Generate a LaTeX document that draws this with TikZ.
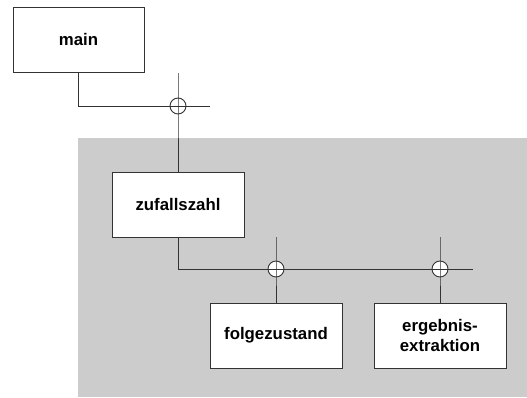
\documentclass[tikz,border=0pt]{standalone}
\usepackage{fontspec}
\setmainfont{Liberation Sans}
\usetikzlibrary{positioning}
\definecolor{panelGray}{RGB}{204,204,204}
\definecolor{lineGray}{RGB}{51,51,51}

\begin{document}
\begin{tikzpicture}[
        x=1pt, y=-1pt,
        module/.style={rectangle, draw=lineGray, fill=white, minimum width=132pt, minimum height=65pt, inner sep=0pt, align=center, font=\fontsize{16.8}{20}\selectfont\bfseries, line width=0.9pt},
        junction/.style={circle, draw=lineGray, fill=white, minimum size=16pt, inner sep=0pt, line width=0.9pt},
        link/.style={draw=lineGray, line width=0.9pt}
    ]
        \useasboundingbox (0,0) rectangle (527,397);
        % Background panel
        \fill[panelGray] (78,138) rectangle (527,397);

        % Modules
        \node[module, minimum width=131pt] (main) at (78.5,39.5) {main};
        \node[module] (zufall) at (178,204.5) {zufallszahl};
        \node[module] (folge) at (276,335.5) {folgezustand};
        \node[module] (ergebnis) at (440,335.5) {ergebnis-\\extraktion};

        % Junctions
        \node[junction] (j1) at (178,106) {};
        \node[junction] (j2) at (276,269) {};
        \node[junction] (j3) at (440,269) {};

        % Free ends
        \coordinate (t1) at (178,73);
        \coordinate (e1) at (210,106);
        \coordinate (t2) at (276,237);
        \coordinate (t3) at (440,237);
        \coordinate (e2) at (473,269);

        % Connectors
        \draw[link] (main.south) |- (e1);
        \draw[link] (t1) -- (j1.center) -- (zufall.north);
        \draw[link] (zufall.south) |- (e2);
        \draw[link] (t2) -- (j2.center) -- (folge.north);
        \draw[link] (t3) -- (j3.center) -- (ergebnis.north);

    \end{tikzpicture}
\end{document}
